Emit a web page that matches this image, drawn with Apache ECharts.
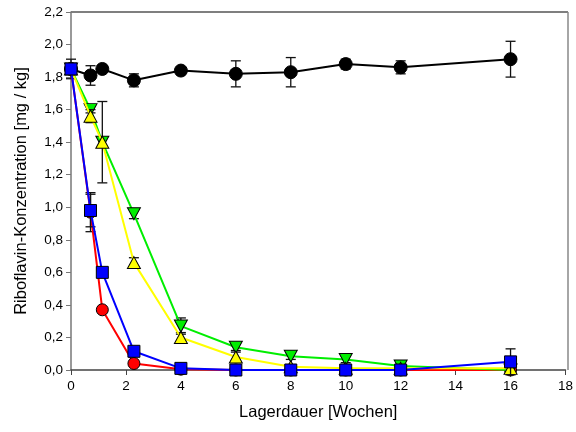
<!DOCTYPE html>
<html>
<head>
<meta charset="utf-8">
<script src="https://cdn.jsdelivr.net/npm/echarts@6/dist/echarts.min.js"></script>
<style>html,body{margin:0;padding:0;background:#fff}#c{width:576px;height:432px}</style>
</head>
<body>
<div id="c"></div>
<script>
var weeks = [0, 0.71, 1.14, 2.29, 4, 6, 8, 10, 12, 16];
var blackVals = [1.85, 1.81, 1.85, 1.78, 1.84, 1.82, 1.83, 1.88, 1.86, 1.91];
var blackErr  = [0.06, 0.06, 0.02, 0.04, 0.02, 0.08, 0.09, 0.03, 0.04, 0.11];
var redVals   = [1.85, 0.97, 0.37, 0.04, 0.005, 0.0, 0.0, 0.0, 0.0, 0.0];
var redErr    = [0.0, 0.12, 0.0, 0.0, 0.0, 0.0, 0.0, 0.0, 0.0, 0.0];
var greenVals = [1.85, 1.60, 1.40, 0.96, 0.27, 0.14, 0.085, 0.065, 0.025, 0.0];
var greenErr  = [0.0, 0.02, 0.0, 0.03, 0.05, 0.02, 0.02, 0.02, 0.01, 0.0];
var yellowVals= [1.85, 1.56, 1.40, 0.66, 0.20, 0.08, 0.02, 0.01, 0.01, 0.01];
var yellowErr = [0.0, 0.04, 0.25, 0.03, 0.03, 0.03, 0.0, 0.0, 0.0, 0.0];
var blueVals  = [1.85, 0.98, 0.60, 0.115, 0.01, 0.0, 0.0, 0.0, 0.0, 0.05];
var blueErr   = [0.0, 0.10, 0.0, 0.0, 0.0, 0.0, 0.0, 0.0, 0.0, 0.08];
var xTicks = [0, 2, 4, 6, 8, 10, 12, 14, 16, 18];
var yTicks = [0, 0.2, 0.4, 0.6, 0.8, 1.0, 1.2, 1.4, 1.6, 1.8, 2.0, 2.2];

function pts(vals){ return weeks.map(function(x,i){ return [x, vals[i]]; }); }
function errs(vals, e){
  var out = [];
  weeks.forEach(function(x,i){ if (e[i] > 0) out.push([x, vals[i]-e[i], vals[i]+e[i]]); });
  return out;
}
function errSeries(vals, e, z){
  return {
    type: 'custom', z: z, silent: true,
    data: errs(vals, e),
    renderItem: function(params, api){
      var lo = api.coord([api.value(0), api.value(1)]);
      var hi = api.coord([api.value(0), api.value(2)]);
      var w = 5;
      var st = {stroke: '#111', lineWidth: 1.3};
      return {type: 'group', children: [
        {type: 'line', shape: {x1: lo[0], y1: lo[1], x2: hi[0], y2: hi[1]}, style: st},
        {type: 'line', shape: {x1: lo[0]-w, y1: lo[1], x2: lo[0]+w, y2: lo[1]}, style: st},
        {type: 'line', shape: {x1: hi[0]-w, y1: hi[1], x2: hi[0]+w, y2: hi[1]}, style: st}
      ]};
    }
  };
}
function lineSeries(vals, color, symbol, size, z){
  return {
    type: 'line', z: z, data: pts(vals), symbol: symbol, symbolSize: size,
    lineStyle: {color: color, width: 2},
    itemStyle: {color: color, borderColor: '#000', borderWidth: 1},
    emphasis: {disabled: true}, animation: false
  };
}
var downTri = 'path://M0,0 L10,0 L5,9 Z';
var upTri = 'path://M5,0 L10,9 L0,9 Z';
var fmt = function(v){ return v.toFixed(1).replace('.', ','); };

var chart = echarts.init(document.getElementById('c'));
chart.setOption({
  animation: false,
  backgroundColor: '#fff',
  textStyle: {fontFamily: 'Liberation Sans, Arial, sans-serif'},
  grid: {left: 71, right: 8, top: 12, bottom: 62},
  xAxis: {
    type: 'value', min: xTicks[0], max: xTicks[xTicks.length-1], interval: 2,
    name: 'Lagerdauer [Wochen]', nameLocation: 'middle', nameGap: 34,
    nameTextStyle: {fontSize: 16.5, color: '#000', fontFamily: 'Liberation Sans'},
    axisLine: {lineStyle: {color: '#444', width: 1.5}},
    axisTick: {inside: false, length: 5, lineStyle: {color: '#444'}},
    axisLabel: {fontSize: 13.5, color: '#000', margin: 9, fontFamily: 'Liberation Sans'},
    splitLine: {show: false}
  },
  yAxis: {
    type: 'value', min: yTicks[0], max: yTicks[yTicks.length-1], interval: 0.2,
    name: 'Riboflavin-Konzentration [mg / kg]', nameLocation: 'middle', nameGap: 41,
    nameTextStyle: {fontSize: 16.5, color: '#000', fontFamily: 'Liberation Sans'},
    axisLine: {lineStyle: {color: '#777', width: 1.5}},
    axisTick: {inside: false, length: 5, lineStyle: {color: '#777'}},
    axisLabel: {fontSize: 13.5, color: '#000', margin: 8, formatter: fmt, fontFamily: 'Liberation Sans'},
    splitLine: {show: false}
  },
  graphic: [
    {type: 'line', shape: {x1: 71, y1: 12, x2: 568, y2: 12}, style: {stroke: '#000', lineWidth: 1.2}, z: 0},
    {type: 'line', shape: {x1: 568, y1: 12, x2: 568, y2: 370}, style: {stroke: '#888', lineWidth: 1.5}, z: 0}
  ],
  series: [
    errSeries(blackVals, blackErr, 2),
    lineSeries(blackVals, '#000000', 'circle', 13, 3),
    errSeries(redVals, redErr, 4),
    lineSeries(redVals, '#ff0000', 'circle', 12, 5),
    errSeries(greenVals, greenErr, 6),
    lineSeries(greenVals, '#00ee00', downTri, [13, 12], 7),
    errSeries(yellowVals, yellowErr, 8),
    lineSeries(yellowVals, '#ffff00', upTri, [13, 12], 9),
    errSeries(blueVals, blueErr, 10),
    lineSeries(blueVals, '#0000ff', 'rect', 12, 11)
  ]
});
</script>
</body>
</html>
